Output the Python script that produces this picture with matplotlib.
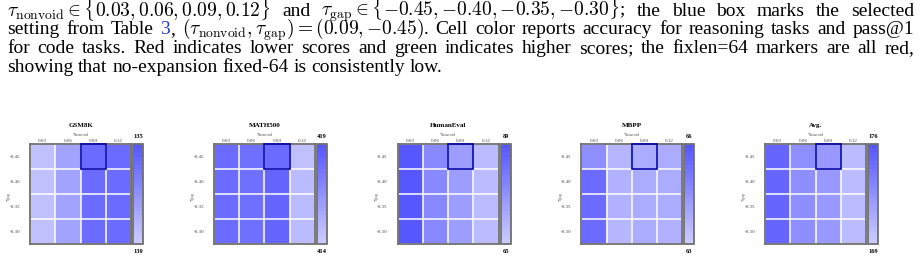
import numpy as np
import matplotlib
matplotlib.use("Agg")
import matplotlib.pyplot as plt
from matplotlib.colors import LinearSegmentedColormap
from matplotlib.patches import Rectangle

plt.rcParams['font.family'] = ['Liberation Serif', 'DejaVu Serif']
plt.rcParams['mathtext.fontset'] = 'cm'

W, H = 922, 260

# grid settings
nonvoid = ["0.03", "0.06", "0.09", "0.12"]
gap = ["-0.45", "-0.40", "-0.35", "-0.30"]
sel_col, sel_row = 2, 0  # (0.09, -0.45)

tasks = ["GSM8K", "MATH500", "HumanEval", "MBPP", "Avg."]

# rows = tau_gap, cols = tau_nonvoid
gsm8k = [[130.5, 131.7, 134.0, 134.0],
         [130.6, 131.8, 134.1, 134.0],
         [130.6, 131.8, 134.1, 134.0],
         [130.5, 131.8, 134.1, 134.0]]
math500 = [[418.0, 417.8, 418.0, 414.6],
           [418.0, 417.8, 418.3, 414.7],
           [418.0, 417.8, 418.3, 414.7],
           [418.0, 417.8, 418.3, 414.7]]
humaneval = [[88.0, 78.0, 74.5, 68.5],
             [88.0, 78.5, 74.5, 68.0],
             [88.0, 78.0, 74.5, 68.5],
             [88.0, 78.0, 74.5, 68.5]]
mbpp = [[64.6, 63.5, 63.8, 63.8],
        [65.4, 63.7, 63.8, 63.8],
        [65.4, 63.7, 63.8, 63.8],
        [65.4, 63.6, 63.8, 63.7]]
avg = [[175.0, 172.5, 172.2, 170.0],
       [175.0, 172.6, 172.2, 170.1],
       [175.0, 172.6, 172.2, 170.1],
       [175.0, 172.5, 172.2, 170.1]]
scores = [gsm8k, math500, humaneval, mbpp, avg]

cbar_lo = [130, 414, 65, 63, 169]
cbar_hi = [135, 419, 89, 66, 176]

# caption lines, (text, colour, glued to previous word)
line1 = [r"$\tau_{\rm nonvoid} \in \{0.03, 0.06, 0.09, 0.12\}$", "and",
         r"$\tau_{\rm gap} \in \{{-}0.45, {-}0.40, {-}0.35, {-}0.30\}$;",
         "the", "blue", "box", "marks", "the", "selected"]
line2 = ["setting", "from", "Table", ("3", "#1f3fbf", False), (",", "black", True),
         r"$(\tau_{\rm nonvoid}, \tau_{\rm gap}) = (0.09, {-}0.45)$.", "Cell", "color",
         "reports", "accuracy", "for", "reasoning", "tasks", "and", "pass@1"]
line3 = "for code tasks. Red indicates lower scores and green indicates higher scores; " \
        "the fixlen=64 markers are all red,".split()
line4 = "showing that no-expansion fixed-64 is consistently low.".split()


def put_line(fig, words, y_px, size, x0=7, x1=914, justify=True):
    r = fig.canvas.get_renderer()
    items = []
    for w in words:
        if isinstance(w, tuple):
            txt, col, glue = w
        else:
            txt, col, glue = w, "black", False
        t = fig.text(0, 1 - y_px / H, txt, fontsize=size, color=col,
                     va="baseline", ha="left")
        items.append([t, t.get_window_extent(r).width, glue])
    n_gaps = sum(1 for it in items[1:] if not it[2])
    total = sum(it[1] for it in items)
    sp = (x1 - x0 - total) / n_gaps if justify else size * 0.25 * 100 / 72
    x = x0
    for i, (t, wd, glue) in enumerate(items):
        if i > 0 and not glue:
            x += sp
        t.set_x(x / W)
        x += wd


fig = plt.figure(figsize=(W / 100, H / 100), dpi=100)

cap_size = 14
put_line(fig, line1, 16, cap_size)
put_line(fig, line2, 34.5, cap_size)
put_line(fig, line3, 53, cap_size)
put_line(fig, line4, 71.5, cap_size, justify=False)

cmap = LinearSegmentedColormap.from_list("blues", ["#cbcbff", "#5757ff"], N=24)
frame = "#707070"

for i, (name, vals) in enumerate(zip(tasks, scores)):
    left = 30 + 183.75 * i
    ax = fig.add_axes([left / W, 16 / H, 101 / W, 100 / H])
    im = ax.imshow(np.array(vals), cmap=cmap, vmin=cbar_lo[i], vmax=cbar_hi[i],
                   aspect="auto")
    ax.set_xticks(range(4))
    ax.set_xticklabels(nonvoid, fontsize=3.6, color="#444")
    ax.set_yticks(range(4))
    ax.set_yticklabels(gap, fontsize=3.6, color="#444")
    ax.xaxis.tick_top()
    ax.tick_params(axis="x", length=0, pad=0.7)
    ax.tick_params(axis="y", length=0, pad=7)
    ax.set_xticks(np.arange(-0.5, 4, 1), minor=True)
    ax.set_yticks(np.arange(-0.5, 4, 1), minor=True)
    ax.grid(which="minor", color="white", lw=1.1)
    ax.tick_params(which="minor", length=0)
    for s in ax.spines.values():
        s.set_edgecolor(frame)
        s.set_linewidth(1.3)
    ax.add_patch(Rectangle((sel_col - 0.5, sel_row - 0.5), 1, 1, fill=False,
                           ec="#0000a8", lw=1.2, clip_on=False, zorder=5))
    ax.text(0.5, 1.183, name, transform=ax.transAxes, ha="center", va="center",
            fontsize=5, fontweight="bold")
    ax.text(0.5, 1.093, r"$\tau_{\rm nonvoid}$", transform=ax.transAxes,
            ha="center", va="center", fontsize=3.9, color="#444")
    ax.text(-0.19, 0.47, r"$\tau_{\rm gap}$", transform=ax.transAxes, rotation=90,
            ha="center", va="center", fontsize=3.9, color="#444")

    cax = fig.add_axes([(left + 103) / W, 16 / H, 10 / W, 100 / H])
    cb = fig.colorbar(im, cax=cax)
    cb.set_ticks([])
    cb.outline.set_edgecolor(frame)
    cb.outline.set_linewidth(1.3)
    cax.text(0.5, 1.07, str(cbar_hi[i]), transform=cax.transAxes, ha="center",
             va="center", fontsize=4.6, fontweight="bold")
    cax.text(0.5, -0.077, str(cbar_lo[i]), transform=cax.transAxes, ha="center",
             va="center", fontsize=4.6, fontweight="bold")

fig.savefig("out.png", dpi=100)
